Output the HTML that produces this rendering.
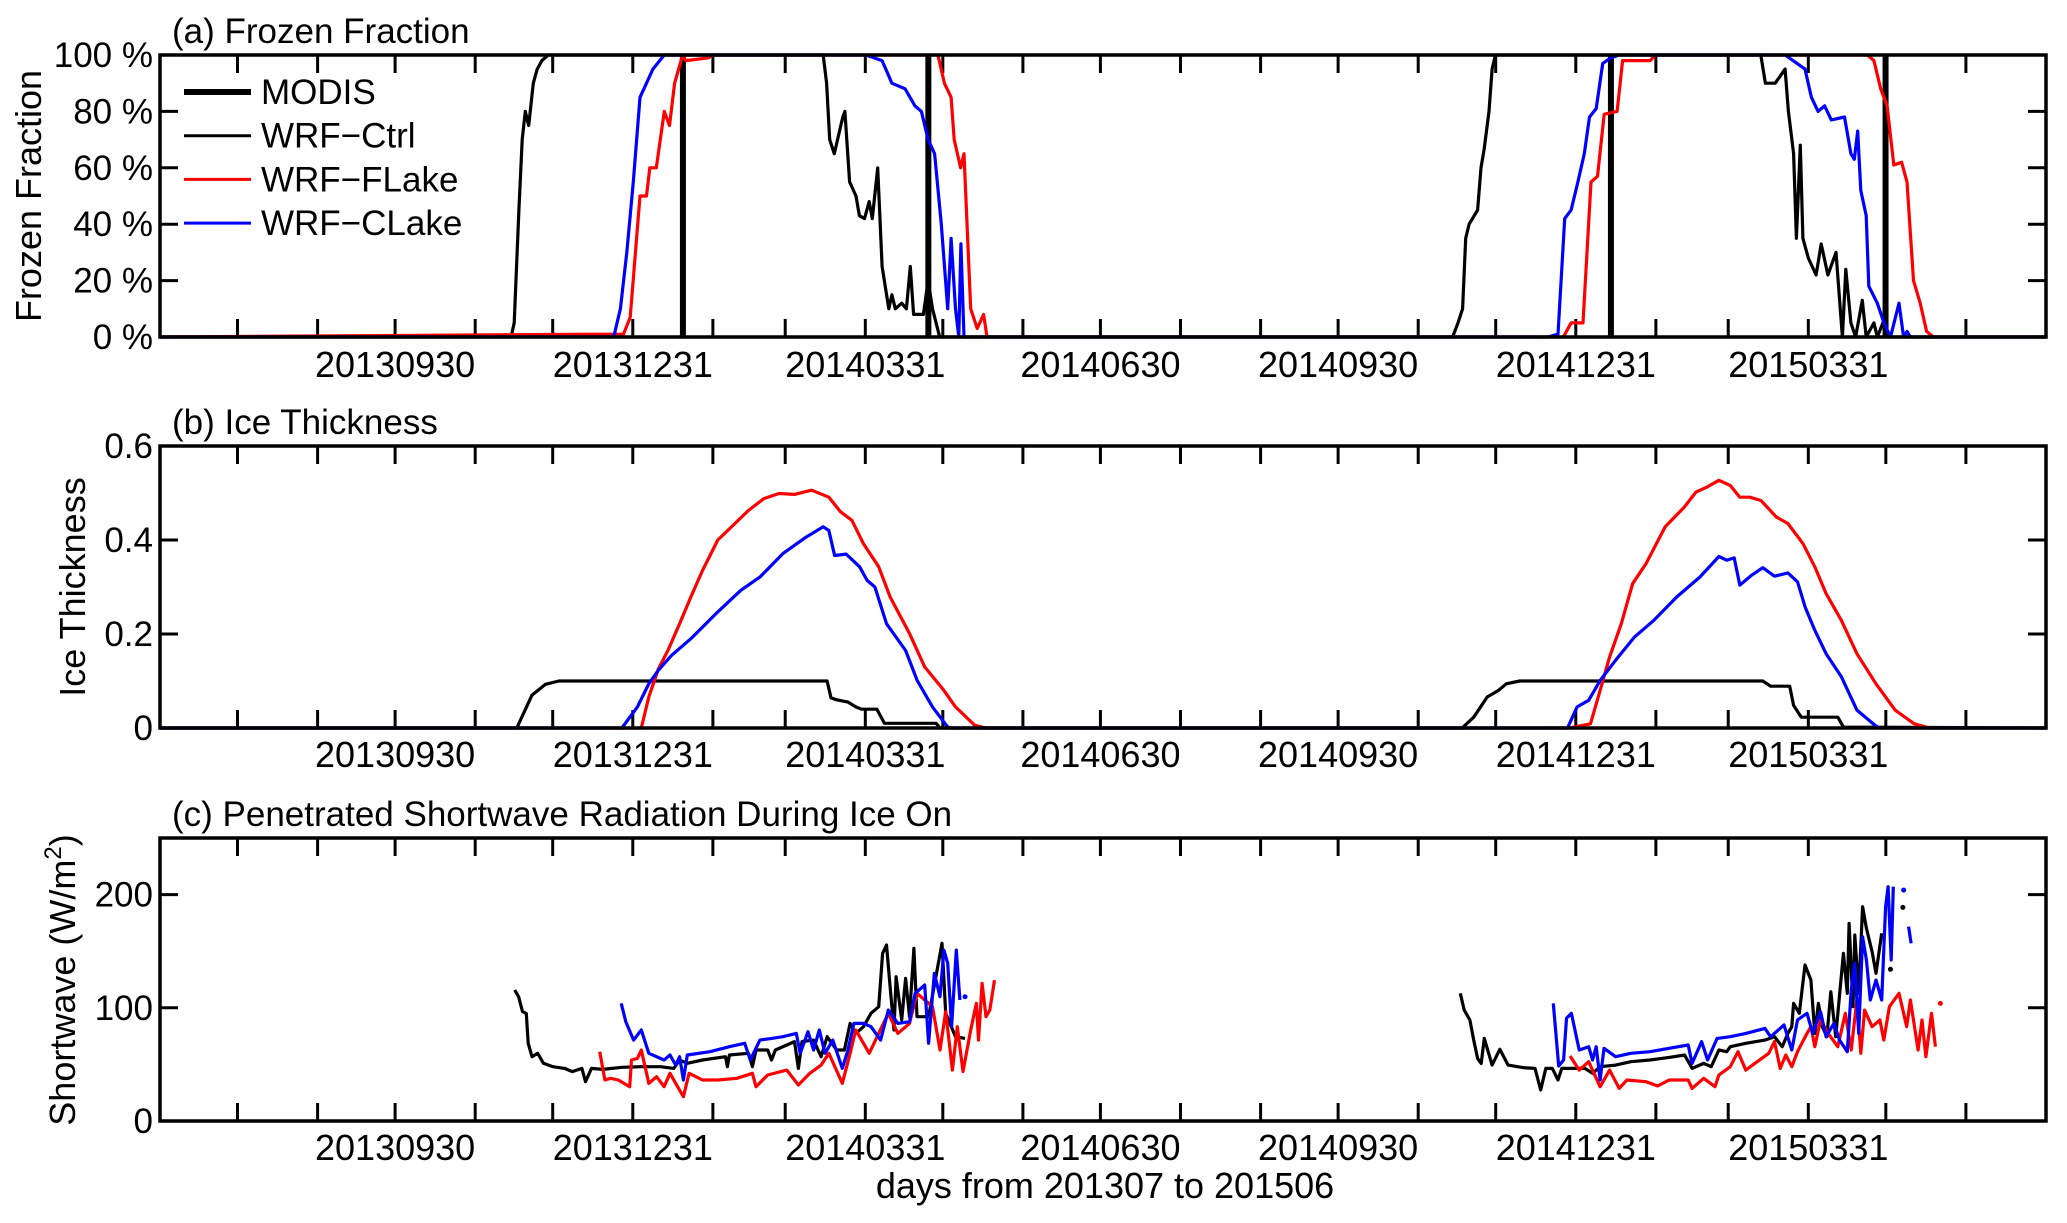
<!DOCTYPE html>
<html><head><meta charset="utf-8"><style>
html,body{margin:0;padding:0;background:#fff;}
svg{display:block;font-family:"Liberation Sans",Arial,sans-serif;}
</style></head><body>
<svg id="fig" width="2067" height="1223" viewBox="0 0 2067 1223" xmlns="http://www.w3.org/2000/svg"></svg>
<script>
// ---- shared time axis ----
const tickLabels = ["20130930","20131231","20140331","20140630","20140930","20141231","20150331"];
const tickLabelDays = [91,183,273,364,456,548,638];
const monthEndDays = [30,61,91,122,152,183,214,242,273,303,334,364,395,426,456,487,517,548,579,607,638,668,699];
const totalDays = 730;
// ---- panel a: frozen fraction (%) ----
const ctrlFracDays = [0,135.9,137.1,138.9,140.2,141.4,142.7,144.5,146,147.8,150.3,256.7,258,259.2,261,264.3,265.1,266.9,269.4,270.7,272.7,274.5,275.7,277.8,279.5,282.1,283.3,284.6,287.1,288.9,290.4,291.7,295.5,297.3,299,301.8,500.3,502.4,504.2,505.4,506.7,510,511.3,512.6,514.4,515.6,516.9,619.6,621.4,625.2,629,630.3,632.3,633.4,634.9,635.9,638,641,643,645.6,648.7,651.2,652.5,654.5,656.3,658.9,660.4,663.4,664.7,667.3,668.5,730];
const ctrlFracVals = [0,0,5,45,70,80,75,90,95,98,100,100,90,70,65,78,80,55,50,43,42,48,42,60,25,10,15,10,12,10,25,8,8,20,10,0,0,5,10,35,40,45,60,67,80,95,100,100,90,90,95,80,65,35,68,35,28,22,33,22,30,0,24,5,0,13,0,5,0,6,0,0];
const flakeFracDays = [0,169.3,179.4,182,185.8,188.3,189.6,192.1,195.2,197.2,199.2,202.3,203.5,212.4,213.7,301.1,303.6,306.2,307.4,309.9,311.2,313.8,316.3,318.8,320.1,538.6,543.2,546.2,550.8,553.9,556.4,559,564,566.1,576.8,578.8,660.9,663.4,666,668.5,671.1,674.1,676.2,678.7,681.3,683.8,686.4,730];
const flakeFracVals = [0,1,1,7,50,50,60,60,80,75,90,100,98,99,100,100,90,85,70,60,65,10,3,8,0,0,0,5,5,55,57,79,80,98,98,100,100,98,88,82,61,62,55,20,12,2,0,0];
const clakeFracDays = [0,175.6,178.2,180.7,183.2,185.8,188.3,190.8,193.4,195.2,273.2,279.5,283.3,288.4,292.2,294.7,297.3,299.8,302.4,304.9,306.2,307.9,309.2,310,311.2,537.3,541.1,543.7,546.2,548.8,551.3,553.3,555.9,558.4,561.5,564.8,629,636.7,639.2,641.8,644.3,646.9,652,654.5,655.8,657.1,658.3,660.4,661.4,664.7,667.3,669.8,673.1,674.9,676.2,677.5,730];
const clakeFracVals = [0,0,10,30,55,85,90,95,98,100,100,98,90,88,82,80,70,65,40,10,35,10,0,33,0,0,1,42,45,55,65,78,81,97,99,100,100,95,85,80,82,77,78,65,63,73,52,43,18,12,5,0,12,0,2,0,0];
const modisDays = [202.4,297.4,561.6,667.9];
// ---- panel b: ice thickness ----
const ctrlIceDays = [0,138.1,144,149.2,154.4,258.2,259.7,261.9,266.3,269.3,271.5,277.5,280.4,300.4,301.9,504,508.5,513.7,518.1,521.1,526.3,620.4,623.4,630.8,632.3,635.3,649.4,651.6,730];
const ctrlIceVals = [0,0,0.07,0.093,0.1,0.1,0.064,0.06,0.055,0.045,0.04,0.04,0.01,0.01,0,0,0.023,0.066,0.08,0.094,0.1,0.1,0.089,0.089,0.048,0.023,0.023,0.002,0];
const flakeIceDays = [0,174.4,186.3,189.2,192.9,196.6,201.1,205.5,210,215.9,221.8,227.8,233.7,239.6,245.6,252.2,258.9,263.4,267.8,272.3,278.2,282.6,290.1,296,303.4,307.9,315.3,319.7,545.6,553.7,557.4,561.1,565.6,570,575.2,582.6,590,594.5,598.9,603.4,607.8,611.5,615.3,619.7,625.6,630.1,636,640.5,644.9,650.8,656.8,664.2,671.6,679,685,730];
const flakeIceVals = [0,0,0,0.066,0.126,0.165,0.222,0.279,0.335,0.4,0.431,0.463,0.488,0.499,0.497,0.506,0.491,0.46,0.442,0.392,0.343,0.279,0.201,0.13,0.08,0.045,0.006,0,0,0.009,0.08,0.151,0.222,0.307,0.35,0.428,0.47,0.502,0.513,0.527,0.516,0.491,0.491,0.484,0.449,0.435,0.392,0.343,0.286,0.229,0.158,0.094,0.038,0.009,0,0];
const clakeIceDays = [0,178.8,184.8,189.2,192.9,198.1,205.5,215.9,224.8,232.2,241.1,250,256.7,258.9,261.1,265.6,270.8,273.7,276.7,281.2,288.6,293.1,299,304.9,306.4,544.8,548.5,553,557.4,563.4,570.8,578.2,587.1,596,603.4,606.4,609.3,611.5,616,620.4,624.9,630.1,633.8,636.8,640.5,644.9,650.8,656.8,664.2,665.7,730];
const clakeIceVals = [0,0,0.045,0.094,0.123,0.155,0.19,0.247,0.293,0.321,0.371,0.406,0.428,0.42,0.367,0.37,0.343,0.314,0.3,0.222,0.165,0.101,0.045,0.002,0,0,0.045,0.059,0.101,0.144,0.194,0.229,0.279,0.321,0.365,0.357,0.362,0.304,0.325,0.341,0.323,0.33,0.311,0.257,0.208,0.158,0.109,0.038,0.004,0,0];
// ---- panel c: shortwave (W/m2); null = gap ----
const ctrlSwDays = [137.3,138.8,140.3,141.8,142.5,144,146.2,148.4,152.1,156.6,159.6,163.3,164.7,167,171.4,178.8,186.3,193.7,198.9,201.1,204.1,210,218.9,219.6,220.4,227.8,229.3,230.7,235.2,236.7,238.2,245.6,247.1,248.5,253,255.9,258.2,261.9,264.9,267.1,269.3,272.3,275.2,278.2,279.7,281.2,282.6,284.1,284.9,287.1,288.6,290.1,291.8,293,297.5,302.7,304.1,307.9,311.6,null,503.3,504.8,507,508.5,510,511.4,512.6,515.6,518.6,521.8,527.8,532.2,534.4,536.4,538.9,541.1,542.6,551.5,554.5,557.4,563.4,569.3,576.7,584.1,590.1,593,597.5,600.4,603.4,606.4,607.8,613.8,621.2,624.9,627.9,630.1,631.6,632.3,634.5,636.7,639,640.5,641.9,643.4,645.2,646.7,648.6,651.6,653.1,653.8,655.3,656,657.5,659,660.5,662.7,664.2,666.4];
const ctrlSwVals = [115.7,109.8,96.6,95,68.6,56.8,59.8,51,48,46.5,43.6,46.5,34.7,46.5,45.6,47.4,48,48,46.5,53.9,51,53.9,56.8,48,58.3,59.8,48,62.7,62.7,53.9,62.7,70.1,46.5,70.1,71.5,56.8,74.5,62.7,62.7,86.2,77.4,83.3,95.1,101,148.1,155.5,118.7,80.4,127.5,89.2,126,92.1,152.5,92.1,92.1,157,95.1,74.5,73,null,112.8,98,89.2,71.5,55.3,50.9,73,49.4,63.3,49.4,47.1,46.5,27.4,46.5,46.5,36.2,46.5,46.5,42.1,48,49.4,52.4,53.9,56.2,58.3,46.5,50.9,48,62.7,61.2,65.6,68.6,71.5,74.5,65.6,77.4,83.3,103.9,95.1,137.8,124.5,77.4,103.9,83.3,74.5,114.2,74.5,148.1,112.8,174.6,101,164.3,112.8,189.3,170.2,149.6,130.4,165.8];
const flakeSwDays = [170.2,172.2,174.4,177.4,181.8,182.5,184.8,186.3,189.2,192.2,195.1,197.4,199.6,202.6,204.8,210,215.9,223.3,229.3,230.7,235.2,242.6,247.1,251.5,255.9,258.9,264.1,267.1,269.3,272.3,274.5,278.2,281.9,285.6,290.1,293,296,299,301.9,304.1,306.7,308.6,310.8,313.8,316,316.8,318.2,319.7,321.2,323,null,545.8,549.3,553,557.4,561.1,564.8,567.8,575.2,579.7,584.1,591.5,593,597.5,601.9,603.4,607.8,610.8,613.8,618.2,622.7,624.9,627.1,629.3,631.6,633.8,637.5,639,640.5,642.7,645.7,649.4,652.3,654.6,656.8,658.3,659.8,662.7,665.7,667.2,669.4,673.1,676.1,677.5,680.5,682,683.5,685.7,687.2];
const flakeSwVals = [61.2,36.2,37.7,36.2,30.3,53.9,55.3,62.7,33.2,39.1,30.3,42.1,33.2,21.5,42.1,36.2,36.2,37.7,42.1,30.3,40.6,45,31.8,42.1,49.4,59.8,33.2,59.8,80.4,68.6,59.8,77.4,95.1,77.4,86.2,112.8,106.9,101,62.7,96.6,45,83.3,43.6,80.4,104,71.5,121.6,92.1,98,124.5,null,57.4,45,52.4,30.3,45,28.8,36.2,34.7,30.9,36.2,36.2,28.8,37.7,30.3,40.6,48,61.2,45,52.4,59.8,70.1,46.5,58.3,48,61.2,77.4,83.3,65.6,89.2,77.4,65.6,95.1,62.7,106.9,59.8,98,83.3,89.2,71.5,101,112.8,83.3,106.9,62.7,89.2,56.8,95.1,65.6];
const clakeSwDays = [178.5,180.3,183.3,186.3,189.2,195.1,197.4,199.6,201.1,202.6,204.1,212.9,220.4,226.3,228.5,232.2,236.7,241.1,246.3,247.8,250.8,253,255.2,257.4,260.4,264.1,266.3,268.6,272.3,275.2,278.9,281.9,285.6,290.1,292.3,296,297.5,299.7,301.9,303.4,304.9,306.4,308.2,309.6,null,539.3,541.4,543.3,544.4,546.3,549.3,553,554.5,555.9,557.4,558.9,563.4,569.3,576.7,584.1,591.5,593,596.7,599,602.7,607.8,613.8,621.2,623.4,628.6,631.6,633.8,637.5,639.7,642.7,644.9,647.9,650.1,653.1,654.6,656,657.5,659,660.5,662,664.2,666.4,667.9,668.9,670.1,670.9,null,676.8,677.8];
const clakeSwVals = [103.9,87.7,71.5,80.4,59.8,53.9,58.3,49.4,56.8,36.2,58.3,61.2,65.6,68.6,53.9,71.5,73,74.5,77.4,59.8,78.9,62.7,80.4,59.8,71.5,46.5,62.7,86.2,86.2,83.3,71.5,98,86.2,87.7,112.8,120.1,68.6,130.4,109.8,151,139.3,83.3,151,106.9,null,103.9,48.6,53.9,90.7,95.1,62.7,65.6,53.9,65.6,36.2,64.2,56.8,59.8,61.2,64.2,67.1,50.9,70.1,53.9,73,74.5,77.4,81.8,74.5,84.8,62.7,89.2,95.1,77.4,96.6,74.5,86.2,71.5,61.2,115.7,139.3,77.4,162.8,142.2,106.9,124.5,106.9,189.3,207,142.2,207,null,171.7,157];
const dotDays = [311.6,669.8,674.6,674.9,689.1];
const dotVals = [109.8,134,188.7,204,103.9];
const dotColors = ["#0000ff","#000","#000","#0000ff","#ff0000"];

// ---- drawing ----
const NS = "http://www.w3.org/2000/svg";
const svg = document.getElementById("fig");
const X0 = 160, X1 = 2046;
function xScale(d){ return X0 + d*(X1-X0)/totalDays; }
function mk(tag, attrs, parent){ const e=document.createElementNS(NS,tag); for(const k in attrs) e.setAttribute(k,attrs[k]); (parent||svg).appendChild(e); return e; }
function txt(s, attrs, parent){ const e=mk("text",attrs,parent); e.textContent=s; return e; }

const panels = [
 {key:"a", top:55, bot:337, ymax:100, yt:[0,20,40,60,80,100], fmt:v=>v+" %", title:"(a) Frozen Fraction", labBase:377},
 {key:"b", top:446, bot:728, ymax:0.6, yt:[0,0.2,0.4,0.6], fmt:v=>v===0?"0":v.toFixed(1), title:"(b) Ice Thickness", labBase:767},
 {key:"c", top:838, bot:1121, ymax:250, yt:[0,100,200], fmt:v=>String(v), title:"(c) Penetrated Shortwave Radiation During Ice On", labBase:1160}
];
function yScaleFor(p){ return v => p.bot - v/p.ymax*(p.bot-p.top); }

function drawSeries(p, days, vals, color, width, name){
  const ys = yScaleFor(p);
  let d=""; let pen=false;
  for(let i=0;i<days.length;i++){
    if(days[i]===null||vals[i]===null){ pen=false; continue; }
    d += (pen?"L":"M")+xScale(days[i]).toFixed(1)+" "+ys(vals[i]).toFixed(1)+" ";
    pen=true;
  }
  const path = mk("path",{d:d,fill:"none",stroke:color,"stroke-width":width,"stroke-linejoin":"round"});
  
  
}

panels.forEach(p=>{
  const g = mk("g",{});
  
  
  const t = txt(p.title,{x:172,y:p.top-12,"font-size":35,fill:"#000"},g);
  
  
  const ys = yScaleFor(p);
  monthEndDays.forEach(d=>{
    const x=xScale(d);
    mk("line",{x1:x,x2:x,y1:p.bot,y2:p.bot-18,stroke:"#000","stroke-width":3},g);
    mk("line",{x1:x,x2:x,y1:p.top,y2:p.top+18,stroke:"#000","stroke-width":3},g);
  });
  tickLabels.forEach((s,i)=>{
    const l = txt(s,{x:xScale(tickLabelDays[i]),y:p.labBase,"font-size":36,"text-anchor":"middle",fill:"#000"},g);
    
    
  });
  p.yt.forEach(v=>{
    const y=ys(v);
    mk("line",{x1:X0,x2:X0+18,y1:y,y2:y,stroke:"#000","stroke-width":3},g);
    mk("line",{x1:X1,x2:X1-18,y1:y,y2:y,stroke:"#000","stroke-width":3},g);
    const l = txt(p.fmt(v),{x:153,y:y+12,"font-size":35,"text-anchor":"end",fill:"#000"},g);
    
    
  });
});

const pa=panels[0], pb=panels[1], pc=panels[2];
modisDays.forEach(d=>{
  const x=xScale(d);
  const bar = mk("line",{x1:x,x2:x,y1:pa.top,y2:pa.bot,stroke:"#000","stroke-width":6});
  
  
});
const LW = 3.2;
drawSeries(pa, ctrlFracDays, ctrlFracVals, "#000", LW, "wrf-ctrl-frozen-line");
drawSeries(pa, flakeFracDays, flakeFracVals, "#ff0000", LW, "wrf-flake-frozen-line");
drawSeries(pa, clakeFracDays, clakeFracVals, "#0000ff", LW, "wrf-clake-frozen-line");
drawSeries(pb, ctrlIceDays, ctrlIceVals, "#000", LW, "wrf-ctrl-ice-line");
drawSeries(pb, flakeIceDays, flakeIceVals, "#ff0000", LW, "wrf-flake-ice-line");
drawSeries(pb, clakeIceDays, clakeIceVals, "#0000ff", LW, "wrf-clake-ice-line");
drawSeries(pc, ctrlSwDays, ctrlSwVals, "#000", LW, "wrf-ctrl-shortwave-line");
drawSeries(pc, flakeSwDays, flakeSwVals, "#ff0000", LW, "wrf-flake-shortwave-line");
drawSeries(pc, clakeSwDays, clakeSwVals, "#0000ff", LW, "wrf-clake-shortwave-line");
const ysc = yScaleFor(pc);
dotDays.forEach((d,i)=>{
  const c = mk("circle",{cx:xScale(d),cy:ysc(dotVals[i]),r:2.5,fill:dotColors[i]});
  
  
});

panels.forEach(p=>{
  const r = mk("rect",{x:X0,y:p.top,width:X1-X0,height:p.bot-p.top,fill:"none",stroke:"#000","stroke-width":3.5});
  
  
});

function ytitle(s, x, cy, name){
  const t = txt("",{transform:"translate("+x+","+cy+") rotate(-90)","font-size":36,"text-anchor":"middle",fill:"#000"});
  t.textContent = s;
  
  
  return t;
}
ytitle("Frozen Fraction", 41, 196, "y-axis-title-a");
ytitle("Ice Thickness", 85, 587, "y-axis-title-b");
const swt = txt("",{transform:"translate(75,980) rotate(-90)","font-size":36,"text-anchor":"middle",fill:"#000"});


const ts1=mk("tspan",{},swt); ts1.textContent="Shortwave (W/m";
const ts2=mk("tspan",{dy:-14,"font-size":24},swt); ts2.textContent="2";
const ts3=mk("tspan",{dy:14},swt); ts3.textContent=")";

const xl = txt("days from 201307 to 201506",{x:1105,y:1198,"font-size":36,"text-anchor":"middle",fill:"#000"});



const legNames = ["MODIS","WRF\u2212Ctrl","WRF\u2212FLake","WRF\u2212CLake"];
const legColors = ["#000","#000","#ff0000","#0000ff"];
const legWidths = [6,3,3,3];
const legG = mk("g",{});


legNames.forEach((n,i)=>{
  const y = 92 + i*43.7;
  const e = mk("g",{},legG);
  
  
  mk("line",{x1:184,x2:251,y1:y,y2:y,stroke:legColors[i],"stroke-width":legWidths[i]},e);
  txt(n,{x:261,y:y+12,"font-size":35,fill:"#000"},e);
});
</script>
</body></html>
